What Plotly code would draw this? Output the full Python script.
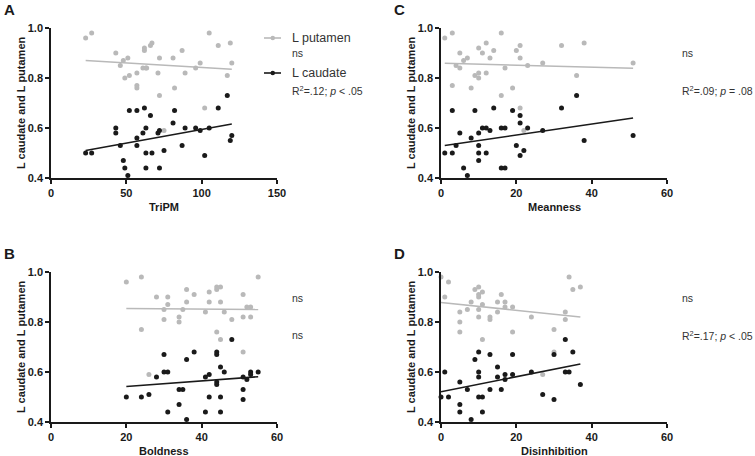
import plotly.graph_objects as go

# ---------------- data ----------------
# Panel A: TriPM
a_put_x = [23, 27, 43, 46, 48, 49, 51, 52, 57, 57, 57, 61, 62, 62, 63, 63.5, 66, 67, 71, 72, 72, 75, 81, 82, 87, 89, 96, 99, 102, 105, 111, 117, 119, 120]
a_put_y = [0.96, 0.98, 0.90, 0.85, 0.87, 0.80, 0.88, 0.81, 0.82, 0.77, 0.76, 0.84, 0.91, 0.92, 0.84, 0.84, 0.93, 0.94, 0.82, 0.88, 0.73, 0.59, 0.88, 0.76, 0.91, 0.82, 0.84, 0.86, 0.68, 0.98, 0.93, 0.81, 0.94, 0.86]
a_cau_x = [23, 27, 43, 43, 46, 48, 49, 51, 52, 57, 57, 57, 61, 62, 63, 63, 66, 67, 63, 71, 72, 72, 75, 81, 82, 87, 89, 96, 99, 102, 105, 111, 117, 119, 120]
a_cau_y = [0.50, 0.50, 0.60, 0.58, 0.53, 0.47, 0.44, 0.41, 0.67, 0.67, 0.56, 0.53, 0.58, 0.68, 0.60, 0.50, 0.65, 0.50, 0.44, 0.58, 0.59, 0.44, 0.51, 0.62, 0.67, 0.53, 0.60, 0.60, 0.59, 0.49, 0.60, 0.68, 0.73, 0.55, 0.57]
a_fit_x = [23, 120]
a_put_fit = [0.870, 0.835]
a_cau_fit = [0.510, 0.616]

# Panel C: Meanness
c_put_x = [1, 3, 3, 4, 5, 5, 6, 7, 8, 9, 10, 10, 10, 11, 12, 12, 13, 14, 16, 16, 17, 19, 20, 21, 21, 21, 22, 23, 27, 32, 36, 38, 51]
c_put_y = [0.96, 0.98, 0.77, 0.85, 0.90, 0.84, 0.87, 0.88, 0.76, 0.81, 0.92, 0.82, 0.80, 0.90, 0.94, 0.82, 0.88, 0.91, 0.98, 0.73, 0.84, 0.76, 0.91, 0.93, 0.88, 0.68, 0.59, 0.85, 0.86, 0.93, 0.81, 0.94, 0.86]
c_cau_x = [1, 3, 3, 4, 5, 6, 7, 8, 9, 10, 10, 10, 10, 11, 12, 12, 13, 14, 16, 16, 17, 17, 19, 20, 21, 21, 21, 22, 23, 27, 32, 36, 38, 51]
c_cau_y = [0.50, 0.50, 0.67, 0.53, 0.58, 0.44, 0.41, 0.56, 0.67, 0.58, 0.53, 0.50, 0.47, 0.60, 0.60, 0.50, 0.59, 0.68, 0.60, 0.44, 0.60, 0.44, 0.67, 0.53, 0.65, 0.62, 0.49, 0.51, 0.60, 0.59, 0.68, 0.73, 0.55, 0.57]
c_fit_x = [1, 51]
c_put_fit = [0.859, 0.839]
c_cau_fit = [0.530, 0.640]

# Panel B: Boldness
b_put_x = [20, 24, 24, 26, 28, 30, 30, 31, 31, 34, 34, 35, 36, 36, 38, 41, 42, 42, 44, 44, 44, 45, 45, 45, 46, 48, 51, 51, 51, 52, 53, 53, 55]
b_put_y = [0.96, 0.98, 0.77, 0.59, 0.90, 0.85, 0.81, 0.90, 0.87, 0.82, 0.80, 0.85, 0.93, 0.88, 0.91, 0.84, 0.92, 0.88, 0.93, 0.94, 0.76, 0.94, 0.88, 0.73, 0.84, 0.81, 0.91, 0.82, 0.68, 0.86, 0.86, 0.82, 0.98]
b_cau_x = [20, 24, 26, 28, 30, 30, 31, 31, 34, 35, 34, 36, 36, 38, 41, 41, 42, 42, 44, 44, 44, 44, 45, 45, 45, 46, 48, 51, 51, 51, 52, 53, 53, 55]
b_cau_y = [0.50, 0.50, 0.51, 0.58, 0.67, 0.60, 0.60, 0.44, 0.53, 0.53, 0.47, 0.65, 0.41, 0.68, 0.58, 0.44, 0.59, 0.50, 0.68, 0.67, 0.56, 0.55, 0.62, 0.50, 0.44, 0.60, 0.73, 0.58, 0.53, 0.49, 0.57, 0.60, 0.59, 0.60]
b_fit_x = [20, 55]
b_put_fit = [0.854, 0.850]
b_cau_fit = [0.542, 0.581]

# Panel D: Disinhibition
d_put_x = [0, 1, 2, 5, 5, 5, 7, 8, 9, 10, 10, 10, 10, 10, 11, 11, 11, 13, 13, 15, 15, 16, 17, 17, 19, 19, 24, 27, 30, 30, 33, 33, 34, 35, 37]
d_put_y = [0.98, 0.90, 0.96, 0.84, 0.80, 0.76, 0.85, 0.88, 0.93, 0.94, 0.91, 0.90, 0.85, 0.82, 0.92, 0.87, 0.73, 0.82, 0.81, 0.88, 0.84, 0.91, 0.88, 0.86, 0.86, 0.76, 0.82, 0.59, 0.77, 0.68, 0.84, 0.81, 0.98, 0.93, 0.94]
d_cau_x = [0, 1, 2, 5, 5, 5, 7, 8, 9, 10, 10, 10, 10, 11, 11, 13, 13, 15, 15, 16, 17, 17, 19, 19, 24, 27, 30, 30, 33, 33, 34, 35, 37]
d_cau_y = [0.50, 0.60, 0.50, 0.56, 0.47, 0.44, 0.53, 0.41, 0.65, 0.68, 0.60, 0.58, 0.50, 0.50, 0.44, 0.67, 0.53, 0.62, 0.58, 0.53, 0.59, 0.57, 0.67, 0.59, 0.60, 0.51, 0.67, 0.49, 0.73, 0.60, 0.60, 0.68, 0.55]
d_fit_x = [0, 37]
d_put_fit = [0.878, 0.820]
d_cau_fit = [0.521, 0.632]

x_titles = ["TriPM", "Meanness", "Boldness", "Disinhibition"]
panel_letters = ["A", "C", "B", "D"]
x_ticks_a = [0, 50, 100, 150]
x_ticks_other = [0, 20, 40, 60]
y_ticks = [0.4, 0.6, 0.8, 1.0]
y_title = "L caudate and L putamen"
legend_names = ["L putamen", "L caudate"]
stats_a = ["ns", "R<sup>2</sup>=.12; <i>p</i> &lt; .05"]
stats_c = ["ns", "R<sup>2</sup>=.09; <i>p</i> = .08"]
stats_b = ["ns", "ns"]
stats_d = ["ns", "R<sup>2</sup>=.17; <i>p</i> &lt; .05"]

# ---------------- styling / layout ----------------
W, H = 755, 456
GREY = "#b9b9b9"
BLACK = "#1a1a1a"
TXT = "#333333"
FONT = "Liberation Sans, Arial, sans-serif"

def px(x):
    return x / W

def py(y):
    return 1 - y / H

fig = go.Figure()

panels = [
    dict(xs=(a_put_x, a_cau_x), ys=(a_put_y, a_cau_y), fx=a_fit_x, fp=a_put_fit, fc=a_cau_fit,
         xr=[0, 150], xt=x_ticks_a, dom_x=(51, 277), dom_y=(178, 28)),
    dict(xs=(c_put_x, c_cau_x), ys=(c_put_y, c_cau_y), fx=c_fit_x, fp=c_put_fit, fc=c_cau_fit,
         xr=[0, 60], xt=x_ticks_other, dom_x=(441, 667), dom_y=(178, 28)),
    dict(xs=(b_put_x, b_cau_x), ys=(b_put_y, b_cau_y), fx=b_fit_x, fp=b_put_fit, fc=b_cau_fit,
         xr=[0, 60], xt=x_ticks_other, dom_x=(51, 277), dom_y=(422, 272)),
    dict(xs=(d_put_x, d_cau_x), ys=(d_put_y, d_cau_y), fx=d_fit_x, fp=d_put_fit, fc=d_cau_fit,
         xr=[0, 60], xt=x_ticks_other, dom_x=(441, 667), dom_y=(422, 272)),
]

annotations = []
layout_axes = {}
for i, p in enumerate(panels):
    n = "" if i == 0 else str(i + 1)
    xa, ya = "x" + n, "y" + n
    for xs, ys, col in ((p["xs"][0], p["ys"][0], GREY), (p["xs"][1], p["ys"][1], BLACK)):
        fig.add_trace(go.Scatter(x=xs, y=ys, mode="markers", xaxis=xa, yaxis=ya,
                                 marker=dict(size=5, color=col, line=dict(width=0)),
                                 cliponaxis=False, showlegend=False, hoverinfo="skip"))
    for fy, col in ((p["fp"], GREY), (p["fc"], BLACK)):
        fig.add_trace(go.Scatter(x=p["fx"], y=fy, mode="lines", xaxis=xa, yaxis=ya,
                                 line=dict(color=col, width=1.6),
                                 cliponaxis=False, showlegend=False, hoverinfo="skip"))
    common = dict(showline=True, linecolor=BLACK, linewidth=1.6, ticks="outside", ticklen=4,
                  tickwidth=1.6, tickcolor=BLACK, showgrid=False, zeroline=False, automargin=False,
                  tickfont=dict(family=FONT, size=11, color=BLACK, weight="bold"))
    layout_axes["xaxis" + n] = dict(domain=[px(p["dom_x"][0]), px(p["dom_x"][1])], range=p["xr"],
                                    tickvals=p["xt"], anchor=ya, **common)
    layout_axes["yaxis" + n] = dict(domain=[py(p["dom_y"][0]), py(p["dom_y"][1])], range=[0.4, 1.0],
                                    tickvals=y_ticks, tickformat=".1f", anchor=xa, **common)
    cx = (p["dom_x"][0] + p["dom_x"][1]) / 2
    cy = (p["dom_y"][0] + p["dom_y"][1]) / 2
    # x title
    annotations.append(dict(text="<b>%s</b>" % x_titles[i], x=px(cx), y=py(p["dom_y"][0] + 29),
                            xref="paper", yref="paper", showarrow=False, xanchor="center", yanchor="middle",
                            font=dict(family=FONT, size=11, color=BLACK)))
    # y title
    annotations.append(dict(text="<b>%s</b>" % y_title, x=px(p["dom_x"][0] - 30), y=py(cy),
                            xref="paper", yref="paper", showarrow=False, textangle=-90,
                            xanchor="center", yanchor="middle",
                            font=dict(family=FONT, size=11, color=BLACK)))
    # panel letter
    annotations.append(dict(text="<b>%s</b>" % panel_letters[i], x=px(p["dom_x"][0] - 49),
                            y=py(p["dom_y"][1] - 18), xref="paper", yref="paper", showarrow=False,
                            xanchor="left", yanchor="middle",
                            font=dict(family=FONT, size=15, color=BLACK)))

# stats text
def stat(text, x, y, size=10.5):
    annotations.append(dict(text=text, x=px(x), y=py(y), xref="paper", yref="paper", showarrow=False,
                            xanchor="left", yanchor="middle", font=dict(family=FONT, size=size, color=TXT)))

# Legend in panel A (built from shapes + text)
shapes = []
for name, col, yy in ((legend_names[0], GREY, 38), (legend_names[1], BLACK, 73)):
    shapes.append(dict(type="line", xref="paper", yref="paper", x0=px(264), x1=px(281),
                       y0=py(yy), y1=py(yy), line=dict(color=col, width=1.6)))
    shapes.append(dict(type="circle", xref="paper", yref="paper", x0=px(270.5), x1=px(275),
                       y0=py(yy + 2.25), y1=py(yy - 2.25), fillcolor=col, line=dict(width=0)))
    stat(name, 290, yy, size=12.5)

stat(stats_a[0], 290, 53)
stat(stats_a[1], 290, 90)
stat(stats_c[0], 680, 53)
stat(stats_c[1], 680, 90)
stat(stats_b[0], 290, 298)
stat(stats_b[1], 290, 335)
stat(stats_d[0], 680, 298)
stat(stats_d[1], 680, 335)

fig.update_layout(width=W, height=H, margin=dict(l=0, r=0, t=0, b=0, pad=0, autoexpand=False),
                  paper_bgcolor="white", plot_bgcolor="white", showlegend=False,
                  annotations=annotations, shapes=shapes, **layout_axes)

fig.write_html("out.html", config={"displayModeBar": False},
               post_script="document.body.style.margin='0';document.body.style.overflow='hidden';")
